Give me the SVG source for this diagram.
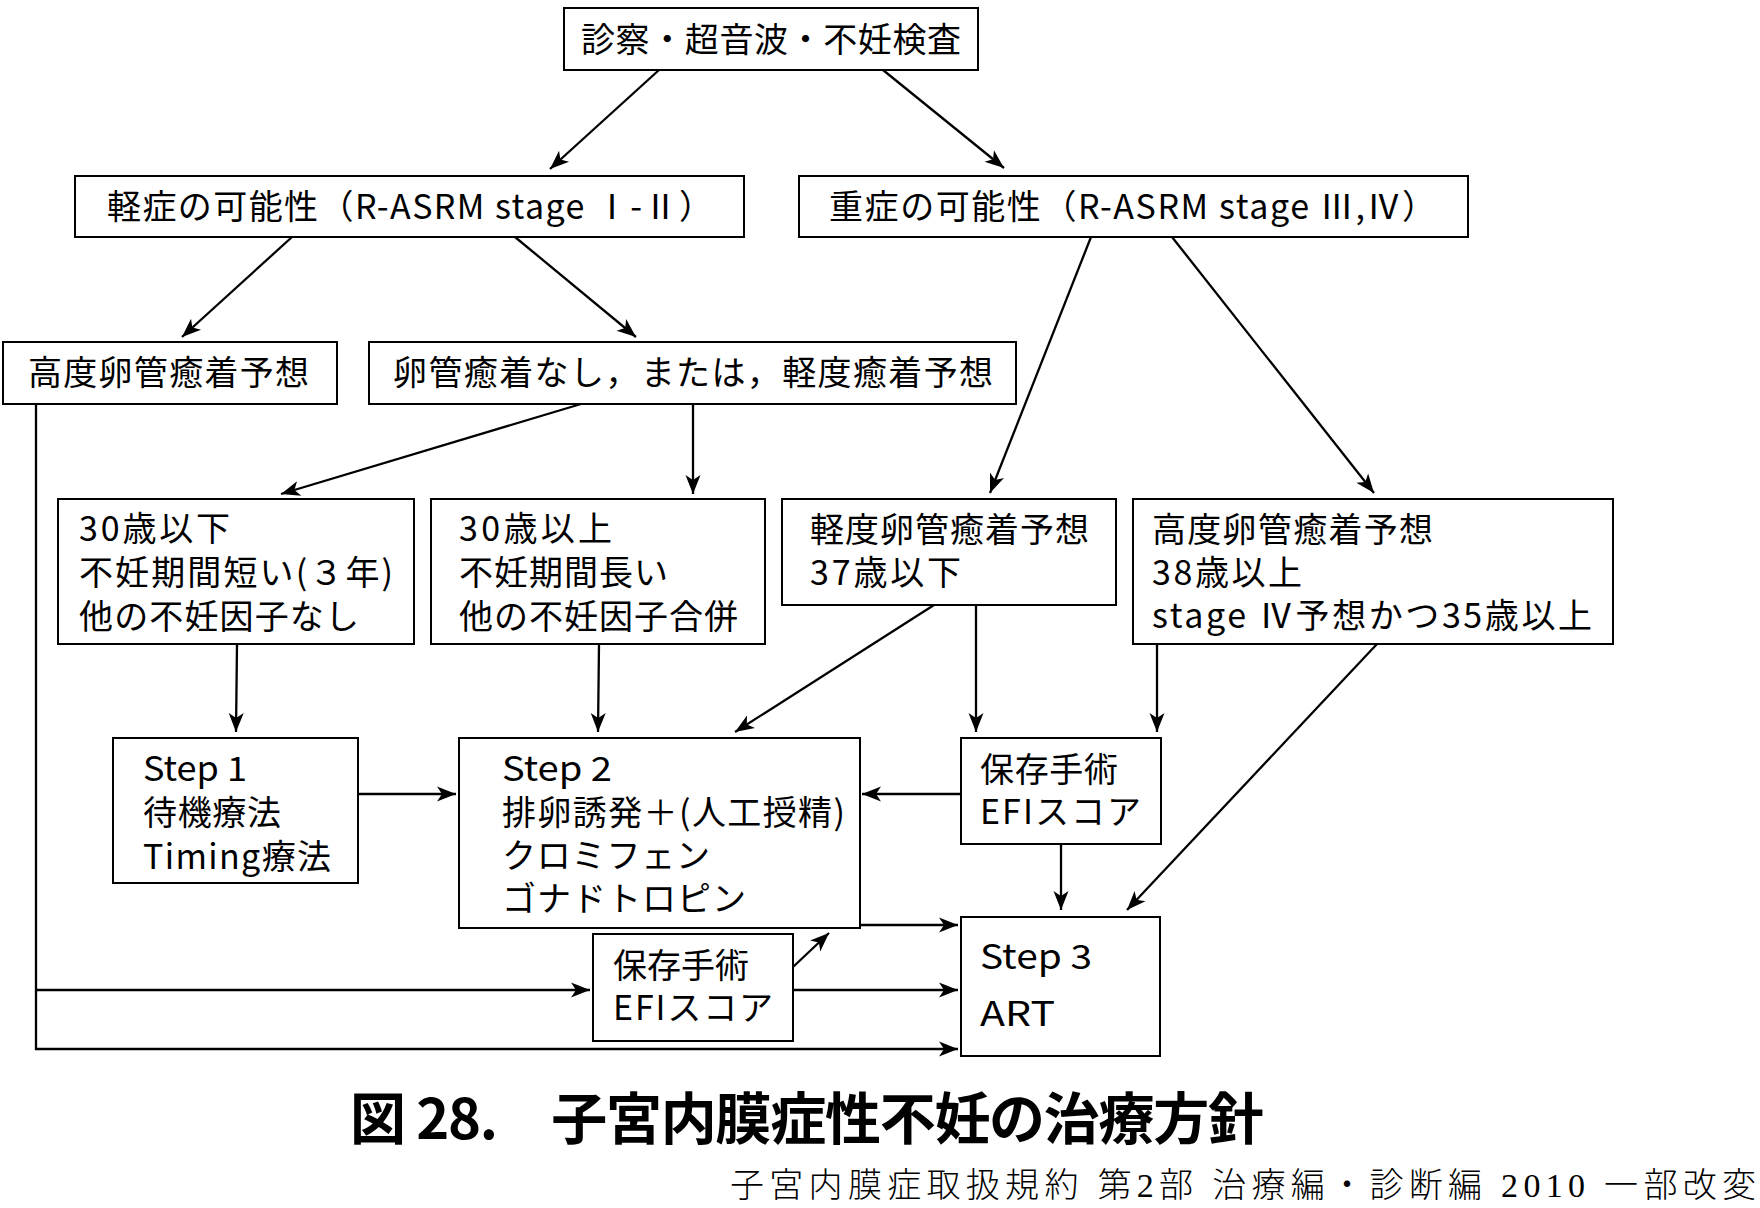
<svg xmlns="http://www.w3.org/2000/svg" width="1760" height="1208" viewBox="0 0 1760 1208">
<style>
.box{fill:#fff;stroke:#000;stroke-width:2}
.t{font-family:"Noto Sans CJK JP","Noto Sans",sans-serif;font-size:34px;fill:#000;dominant-baseline:central}
.c{fill:none;stroke:#000;stroke-width:2.3;marker-end:url(#ah)}
.cap{font-family:"Noto Sans CJK JP","Noto Sans",sans-serif;font-size:56px;font-weight:bold;fill:#000;dominant-baseline:central}
.src{font-family:"Liberation Serif","Noto Sans CJK JP",serif;font-size:34px;font-weight:300;fill:#000;dominant-baseline:central}
</style>
<defs>
<marker id="ah" markerUnits="userSpaceOnUse" markerWidth="22" markerHeight="18" viewBox="-21 -9 22 18" refX="0" refY="0" orient="auto">
<path d="M0,0 L-19,-7.5 L-14,0 L-19,7.5 Z" fill="#000"/>
</marker>
</defs>
<rect width="1760" height="1208" fill="#fff"/>
<g id="connectors">
<path class="c" d="M659,70 L550,169"/>
<path class="c" d="M883,70 L1004,168"/>
<path class="c" d="M292,237 L182,337"/>
<path class="c" d="M515,237 L636,337"/>
<path class="c" d="M1091,237 L990,493"/>
<path class="c" d="M1172,237 L1374,493"/>
<path class="c" d="M581,404 L281,494"/>
<path class="c" d="M693,404 L693,494"/>
<path class="c" d="M237,644 L236,732"/>
<path class="c" d="M599,644 L598,732"/>
<path class="c" d="M934,605 L735,732"/>
<path class="c" d="M976,605 L976,732"/>
<path class="c" d="M1157,644 L1157,732"/>
<path class="c" d="M1377,644 L1127,910"/>
<path class="c" d="M358,794 L456,794"/>
<path class="c" d="M961,794 L862,794"/>
<path class="c" d="M1061,844 L1061,910"/>
<path class="c" d="M860,925 L958,925"/>
<path class="c" d="M793,967 L829,933"/>
<path class="c" d="M793,990 L958,990"/>
<path class="c" d="M36,404 L36,1049 L958,1049"/>
<path class="c" d="M36,990 L590,990"/>
</g>
<g id="n-exam">
<rect class="box" x="564" y="8" width="414" height="62"/>
<text class="t" x="581" y="37" textLength="380">診察・超音波・不妊検査</text>
</g>
<g id="n-mild">
<rect class="box" x="75" y="176" width="669" height="61"/>
<text class="t" x="107" y="204" textLength="606">軽症の可能性（R-ASRM stage Ⅰ-Ⅱ）</text>
</g>
<g id="n-severe">
<rect class="box" x="799" y="176" width="669" height="61"/>
<text class="t" x="829" y="204" textLength="607">重症の可能性（R-ASRM stage Ⅲ,Ⅳ）</text>
</g>
<g id="n-high-adh-1">
<rect class="box" x="3" y="342" width="334" height="62"/>
<text class="t" x="28" y="370" textLength="281">高度卵管癒着予想</text>
</g>
<g id="n-no-adh">
<rect class="box" x="369" y="342" width="647" height="62"/>
<text class="t" x="393" y="370" textLength="600">卵管癒着なし，または，軽度癒着予想</text>
</g>
<g id="n-under30">
<rect class="box" x="58" y="499" width="356" height="145"/>
<text class="t" x="79" y="526" textLength="151">30歳以下</text>
<text class="t" x="79" y="570" textLength="314">不妊期間短い(３年)</text>
<text class="t" x="79" y="614" textLength="280">他の不妊因子なし</text>
</g>
<g id="n-over30">
<rect class="box" x="431" y="499" width="334" height="145"/>
<text class="t" x="459" y="526" textLength="153">30歳以上</text>
<text class="t" x="459" y="570" textLength="209">不妊期間長い</text>
<text class="t" x="459" y="614" textLength="279">他の不妊因子合併</text>
</g>
<g id="n-mild-adh">
<rect class="box" x="782" y="499" width="334" height="106"/>
<text class="t" x="810" y="527" textLength="279">軽度卵管癒着予想</text>
<text class="t" x="810" y="570" textLength="151">37歳以下</text>
</g>
<g id="n-high-adh-2">
<rect class="box" x="1133" y="499" width="480" height="145"/>
<text class="t" x="1152" y="527" textLength="281">高度卵管癒着予想</text>
<text class="t" x="1152" y="570" textLength="150">38歳以上</text>
<text class="t" x="1152" y="613" textLength="440">stage Ⅳ予想かつ35歳以上</text>
</g>
<g id="n-step1">
<rect class="box" x="113" y="738" width="245" height="145"/>
<text class="t" x="143" y="766" textLength="104" lengthAdjust="spacingAndGlyphs">Step 1</text>
<text class="t" x="143" y="810" textLength="138">待機療法</text>
<text class="t" x="143" y="854" textLength="188">Timing療法</text>
</g>
<g id="n-step2">
<rect class="box" x="459" y="738" width="401" height="190"/>
<text class="t" x="502" y="766" textLength="110" lengthAdjust="spacingAndGlyphs">Step 2</text>
<text class="t" x="502" y="810" textLength="343">排卵誘発＋(人工授精)</text>
<text class="t" x="502" y="853" textLength="208">クロミフェン</text>
<text class="t" x="502" y="896" textLength="244">ゴナドトロピン</text>
</g>
<g id="n-surgery-1">
<rect class="box" x="961" y="738" width="200" height="106"/>
<text class="t" x="980" y="767" textLength="138">保存手術</text>
<text class="t" x="980" y="809" textLength="161">EFIスコア</text>
</g>
<g id="n-surgery-2">
<rect class="box" x="593" y="934" width="200" height="107"/>
<text class="t" x="613" y="963" textLength="136">保存手術</text>
<text class="t" x="613" y="1005" textLength="160">EFIスコア</text>
</g>
<g id="n-step3">
<rect class="box" x="961" y="917" width="199" height="139"/>
<text class="t" x="980" y="954" textLength="112" lengthAdjust="spacingAndGlyphs">Step 3</text>
<text class="t" x="980" y="1011" textLength="75" lengthAdjust="spacingAndGlyphs">ART</text>
</g>
<g id="caption">
<text class="cap" x="350" y="1114" textLength="914">図 28.　子宮内膜症性不妊の治療方針</text>
<text class="src" x="730" y="1185" textLength="1026">子宮内膜症取扱規約 第2部 治療編・診断編 2010 一部改変</text>
</g>
</svg>
